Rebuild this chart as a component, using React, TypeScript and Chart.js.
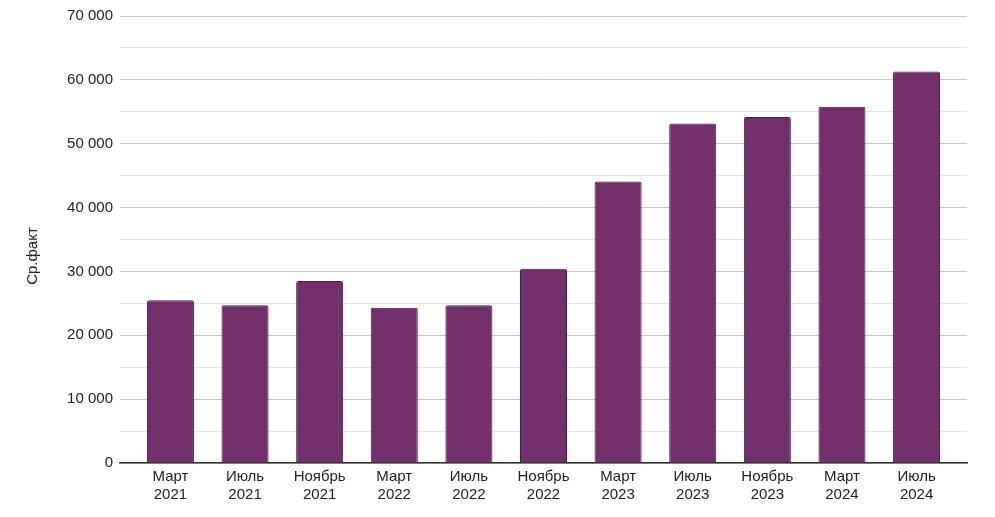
import Chart from "chart.js/auto";
import { useRef, useEffect } from "react";

const months = ["Март", "Июль", "Ноябрь", "Март", "Июль", "Ноябрь", "Март", "Июль", "Ноябрь", "Март", "Июль"];
const years = ["2021", "2021", "2021", "2022", "2022", "2022", "2023", "2023", "2023", "2024", "2024"];
const avgFact = [25500, 24700, 28500, 24300, 24700, 30400, 44100, 53150, 54200, 55800, 61300];

const yMax = 70000;
const yStep = 5000;
const yTitle = "Ср.факт";

const formatThousands = (v: number) =>
  String(v).replace(/\B(?=(\d{3})+(?!\d))/g, " ");

const fontFamily = "'Liberation Sans', Arial, sans-serif";

// y-axis title drawn by hand so it can sit where the original has it
const yTitlePlugin = {
  id: "yTitle",
  afterDraw(chart: any) {
    const { ctx } = chart;
    ctx.save();
    ctx.translate(33, 256);
    ctx.rotate(-Math.PI / 2);
    ctx.font = `15px ${fontFamily}`;
    ctx.fillStyle = "#222222";
    ctx.textAlign = "center";
    ctx.textBaseline = "middle";
    ctx.fillText(yTitle, 0, 0);
    ctx.restore();
  },
};

const App: React.FC = () => {
  const chartRef = useRef<HTMLCanvasElement>(null);
  const chartInstance = useRef<Chart>();

  useEffect(() => {
    if (!chartRef.current) return;
    document.body.style.margin = "0";

    const points = avgFact.map((v, i) => ({ x: i, y: v }));
    const font = { family: fontFamily, size: 15 };

    chartInstance.current = new Chart(chartRef.current, {
      type: "bar",
      data: {
        datasets: [
          {
            label: yTitle,
            data: points,
            backgroundColor: "#722f6c",
            borderColor: "#4a1845",
            borderWidth: 1,
            borderRadius: 2,
            borderSkipped: "bottom",
            categoryPercentage: 1,
            barPercentage: 0.63,
          },
        ],
      },
      options: {
        animation: false,
        responsive: false,
        devicePixelRatio: 1,
        layout: { padding: { left: 0, right: 28, top: 15, bottom: 0 } },
        plugins: {
          legend: { display: false },
          tooltip: { enabled: false },
        },
        scales: {
          x: {
            type: "linear",
            offset: false,
            min: -0.676,
            max: months.length - 1 + 0.676,
            grid: { display: false, drawTicks: false, offset: false },
            border: { display: true, color: "#333333", width: 1.5 },
            afterBuildTicks: (scale: any) => {
              scale.ticks = months.map((_, i) => ({ value: i }));
            },
            ticks: {
              color: "#222222",
              font,
              padding: 5,
              maxRotation: 0,
              autoSkip: false,
              callback: (v: any) => [months[Number(v)], years[Number(v)]],
            },
            afterFit: (scale: any) => {
              scale.height = 54;
            },
          },
          y: {
            min: 0,
            max: yMax,
            grid: {
              drawTicks: false,
              color: (ctx: any) =>
                ctx.tick && ctx.tick.value % 10000 === 0 ? "#c8c8c8" : "#e6e6e6",
              lineWidth: 1,
            },
            border: { display: false },
            ticks: {
              stepSize: yStep,
              color: "#222222",
              font,
              padding: 7,
              callback: (v: any) => (Number(v) % 10000 === 0 ? formatThousands(Number(v)) : ""),
            },
            afterFit: (scale: any) => {
              scale.width = 120;
            },
          },
        },
      },
      plugins: [yTitlePlugin],
    });

    return () => {
      if (chartInstance.current) {
        chartInstance.current.destroy();
      }
    };
  }, []);

  return (
    <div style={{ position: "absolute", left: 0, top: 0, width: 995, height: 517 }}>
      <canvas ref={chartRef} width={995} height={517} style={{ width: 995, height: 517 }}></canvas>
    </div>
  );
};

export default App;
